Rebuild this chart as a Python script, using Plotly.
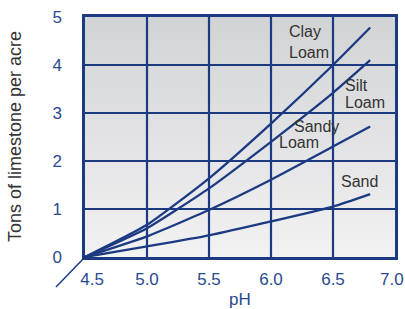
import plotly.graph_objects as go

ph = [4.5, 5.0, 5.5, 6.0, 6.5, 6.8]
clay_loam = [0, 0.67, 1.64, 2.78, 4.0, 4.78]
silt_loam = [0, 0.60, 1.43, 2.40, 3.42, 4.10]
sandy_loam = [0, 0.43, 0.98, 1.61, 2.30, 2.72]
sand = [0, 0.22, 0.45, 0.74, 1.05, 1.31]

x_ticks = [4.5, 5.0, 5.5, 6.0, 6.5, 7.0]
x_tick_labels = ["\u00a0\u00a0\u00a04.5", "5.0", "5.5", "6.0", "6.5", "7.0"]
y_ticks = [0, 1, 2, 3, 4, 5]

NAVY = "#1c3a82"
TICK_BLUE = "#2a4a8f"
FONT = "Liberation Sans, Arial, sans-serif"

fig = go.Figure()

# gradient background
fig.add_trace(go.Scatter(
    x=[x_ticks[0], x_ticks[-1]], y=[y_ticks[-1], y_ticks[-1]], mode="lines", line=dict(width=0),
    fill="tozeroy",
    fillgradient=dict(type="vertical", start=0, stop=5,
                      colorscale=[[0, "#f2f2f3"], [1, "#d2d3d5"]]),
    hoverinfo="skip", showlegend=False))

for ys in [clay_loam, silt_loam, sandy_loam, sand]:
    fig.add_trace(go.Scatter(
        x=ph, y=ys, mode="lines",
        line=dict(color=NAVY, width=2.3, shape="spline", smoothing=0.5),
        showlegend=False))

# grid lines drawn above the gradient fill
shapes = []
for xv in x_ticks[1:-1]:
    shapes.append(dict(type="line", xref="x", yref="paper", x0=xv, x1=xv, y0=0, y1=1,
                       line=dict(color=NAVY, width=2.2), layer="above"))
for yv in y_ticks[1:-1]:
    shapes.append(dict(type="line", xref="paper", yref="y", x0=0, x1=1, y0=yv, y1=yv,
                       line=dict(color=NAVY, width=2.2), layer="above"))
shapes.append(dict(type="line", xref="paper", yref="paper",
                   x0=0, y0=0, x1=-29 / 310, y1=-30 / 240,
                   line=dict(color=NAVY, width=1.5)))

labels = [
    ("Clay", 6.13, 4.69), ("Loam", 6.13, 4.27),
    ("Silt", 6.58, 3.58), ("Loam", 6.58, 3.21),
    ("Sandy", 6.17, 2.72), ("Loam", 6.05, 2.38),
    ("Sand", 6.55, 1.57),
]
annotations = []
for t, x, y in labels:
    annotations.append(dict(text=t, x=x, y=y, xref="x", yref="y",
                            xanchor="left", yanchor="middle", showarrow=False,
                            font=dict(family=FONT, size=16, color="#333333")))

# last x tick label kept inside the page edge
annotations.append(dict(text=x_tick_labels[-1], x=x_ticks[-1], y=-22 / 240,
                        xref="x", yref="paper", xanchor="center", yanchor="middle",
                        xshift=-3.5, showarrow=False, borderpad=0,
                        font=dict(family=FONT, size=17, color=TICK_BLUE)))

annotations.append(dict(text="Tons of limestone per acre", x=-70 / 310, y=0.5,
                        xref="paper", yref="paper", textangle=-90,
                        xanchor="center", yanchor="middle", showarrow=False,
                        font=dict(family=FONT, size=18, color="#333333")))
annotations.append(dict(text="pH", x=0.5, y=-42 / 240, xref="paper", yref="paper",
                        xanchor="center", yanchor="middle", showarrow=False,
                        font=dict(family=FONT, size=17, color=TICK_BLUE)))

fig.update_layout(
    width=405, height=309,
    margin=dict(l=85, r=10, t=17, b=52),
    paper_bgcolor="white", plot_bgcolor="white",
    annotations=annotations,
    shapes=shapes,
    xaxis=dict(range=[4.5, 7.0], tickvals=x_ticks[:-1], ticktext=x_tick_labels[:-1],
               showgrid=False, automargin=False,
               showline=True, linecolor=NAVY, linewidth=2.5, mirror=True,
               zeroline=False, ticks="", ticklabelstandoff=5,
               tickfont=dict(family=FONT, size=17, color=TICK_BLUE)),
    yaxis=dict(range=[0, 5], tickvals=y_ticks, automargin=False,
               showgrid=False,
               showline=True, linecolor=NAVY, linewidth=2.5, mirror=True,
               zeroline=False, ticks="", ticklabelstandoff=17,
               tickfont=dict(family=FONT, size=17, color=TICK_BLUE)),
)

fig.write_html("out.html", config={"displayModeBar": False},
               post_script="document.body.style.margin='0';")
